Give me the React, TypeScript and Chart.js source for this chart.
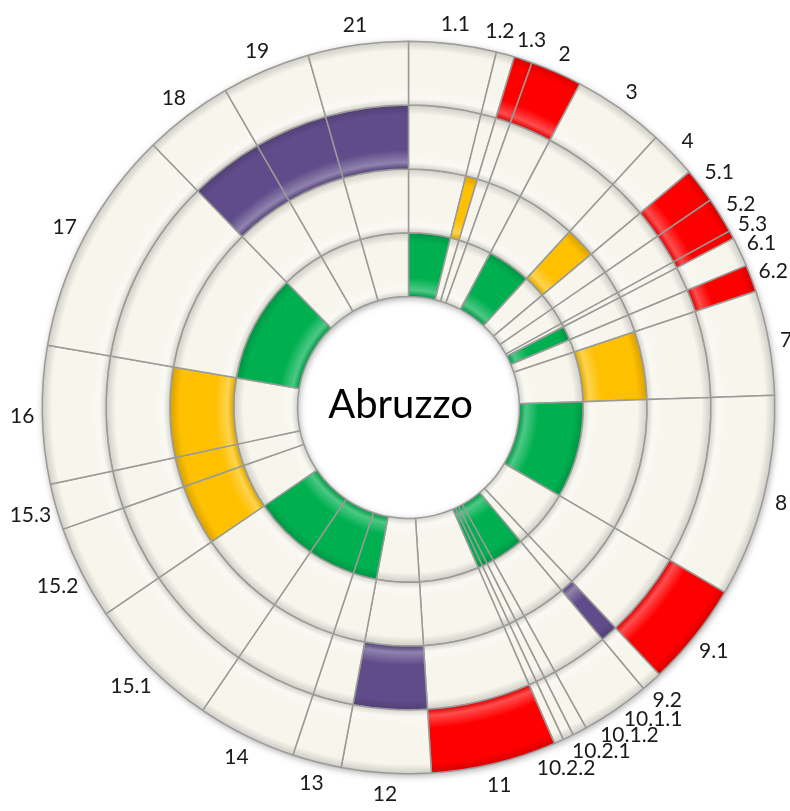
import React, { useEffect, useRef } from 'react';
import Chart from 'chart.js/auto';

// Categories (outer labels), clockwise from 12 o'clock
const categories = ['1.1', '1.2', '1.3', '2', '3', '4', '5.1', '5.2', '5.3', '6.1', '6.2', '7', '8', '9.1', '9.2', '10.1.1', '10.1.2', '10.2.1', '10.2.2', '11', '12', '13', '14', '15.1', '15.2', '15.3', '16', '17', '18', '19', '21'];
// Angular weight of each category
const weights = [13.9, 2.9, 2.9, 8.2, 14.6, 7.5, 5.5, 5.7, 1.3, 4.7, 4.3, 16.6, 32.2, 16.5, 3.3, 10.9, 2.3, 1.7, 1.5, 19.9, 14.2, 7.8, 15.8, 21.5, 14.9, 7.3, 21.9, 36, 14.2, 14.1, 15.9];
// Level of each category: 1 = inner ring (green) ... 4 = outer ring (red)
const levels = [1, 2, 4, 4, 1, 2, 4, 4, 4, 1, 4, 2, 1, 4, 3, 1, 1, 1, 1, 4, 3, 1, 1, 1, 2, 2, 2, 1, 3, 3, 3];
// Rings drawn from outside to inside
const rings = [4, 3, 2, 1];
const ringColors: Record<number, string> = { 1: '#00B050', 2: '#FFC000', 3: '#604C8A', 4: '#FF0000' };
const emptyColor = '#F7F5EC';
const centerTitle = 'Abruzzo';

function shade(hex: string, f: number): string {
  const n = parseInt(hex.slice(1), 16);
  let r = (n >> 16) & 255, g = (n >> 8) & 255, b = n & 255;
  if (f < 0) { r *= 1 + f; g *= 1 + f; b *= 1 + f; }
  else { r += (255 - r) * f; g += (255 - g) * f; b += (255 - b) * f; }
  return `rgb(${Math.round(r)},${Math.round(g)},${Math.round(b)})`;
}

const makeBg = (ring: number) => (ctx: any) => {
  const base = levels[ctx.dataIndex] === ring ? ringColors[ring] : emptyColor;
  const chart = ctx.chart;
  const meta = chart.getDatasetMeta(ctx.datasetIndex);
  const ctrl: any = meta && meta.controller;
  const area = chart.chartArea;
  if (!area || !ctrl || !ctrl.outerRadius) return base;
  const cx = (area.left + area.right) / 2;
  const cy = (area.top + area.bottom) / 2;
  const g = chart.ctx.createRadialGradient(cx, cy, ctrl.innerRadius, cx, cy, ctrl.outerRadius);
  g.addColorStop(0, shade(base, -0.14));
  g.addColorStop(0.1, shade(base, 0.3));
  g.addColorStop(0.3, base);
  g.addColorStop(0.85, base);
  g.addColorStop(1, shade(base, -0.16));
  return g;
};

const shadowPlugin = {
  id: 'ringShadow',
  beforeDatasetsDraw(chart: any) {
    const outer = chart.getDatasetMeta(0).data[0];
    const inner = chart.getDatasetMeta(rings.length - 1).data[0];
    if (!outer || !inner) return;
    const p = outer.getProps(['x', 'y', 'outerRadius'], true);
    const q = inner.getProps(['innerRadius'], true);
    const c = chart.ctx;
    c.save();
    c.beginPath();
    c.arc(p.x, p.y, p.outerRadius, 0, Math.PI * 2);
    c.arc(p.x, p.y, q.innerRadius, 0, Math.PI * 2, true);
    c.fillStyle = '#d9d9d9';
    c.shadowColor = 'rgba(0,0,0,0.35)';
    c.shadowBlur = 7;
    c.shadowOffsetX = 1;
    c.shadowOffsetY = 2;
    c.fill('evenodd');
    c.restore();
  },
};

const labelPlugin = {
  id: 'outerLabels',
  afterDatasetsDraw(chart: any) {
    const meta = chart.getDatasetMeta(0);
    const c = chart.ctx;
    c.save();
    c.font = '21px Lato';
    c.fillStyle = '#1a1a1a';
    c.textAlign = 'center';
    c.textBaseline = 'middle';
    const items = meta.data.map((el: any, i: number) => {
      const p = el.getProps(['x', 'y', 'startAngle', 'endAngle', 'outerRadius'], true);
      return {
        text: categories[i],
        a: (p.startAngle + p.endAngle) / 2,
        w: c.measureText(categories[i]).width + 2,
        h: 16,
        cx: p.x,
        cy: p.y,
        R: p.outerRadius,
      };
    });
    const pos = (it: any) => {
      const cs = Math.cos(it.a), sn = Math.sin(it.a);
      const r = it.R + 12 + 0.6 * Math.abs(cs) * it.w / 2 + Math.abs(sn) * 7.5;
      return { x: it.cx + r * cs, y: it.cy + r * sn };
    };
    for (let k = 0; k < 2000; k++) {
      let moved = false;
      for (let i = 0; i < items.length - 1; i++) {
        const A = items[i], B = items[i + 1];
        const p = pos(A), q = pos(B);
        const ox = (A.w + B.w) / 2 - Math.abs(p.x - q.x);
        const oy = (A.h + B.h) / 2 - Math.abs(p.y - q.y);
        if (ox > 0 && oy > 0) { A.a -= 0.0015; B.a += 0.0002; moved = true; }
      }
      if (!moved) break;
    }
    items.forEach((it: any) => { const p = pos(it); c.fillText(it.text, p.x, p.y + 1); });
    if (items.length) {
      c.font = '40px Lato';
      c.fillStyle = '#000';
      c.fillText(centerTitle, items[0].cx - 8, items[0].cy - 2);
    }
    c.restore();
  },
};

export default function App() {
  const ref = useRef<HTMLCanvasElement | null>(null);
  useEffect(() => {
    if (!ref.current) return;
    const chart = new Chart(ref.current, {
      type: 'doughnut',
      data: {
        labels: categories,
        datasets: rings.map((ring) => ({
          label: 'Livello ' + ring,
          data: weights,
          backgroundColor: makeBg(ring),
          borderColor: '#9a9a98',
          borderWidth: 1.5,
        })),
      },
      options: {
        responsive: false,
        animation: false,
        events: [],
        cutout: '30.3%',
        layout: { padding: { left: 41.5, right: 14.5, top: 40.5, bottom: 36.5 } },
        plugins: { legend: { display: false }, tooltip: { enabled: false } },
      },
      plugins: [shadowPlugin, labelPlugin],
    });
    return () => chart.destroy();
  }, []);
  return (
    <div style={{ position: 'fixed', left: 0, top: 0, width: 790, height: 811, background: '#fff' }}>
      <canvas ref={ref} width={790} height={811} style={{ display: 'block' }} />
    </div>
  );
}
